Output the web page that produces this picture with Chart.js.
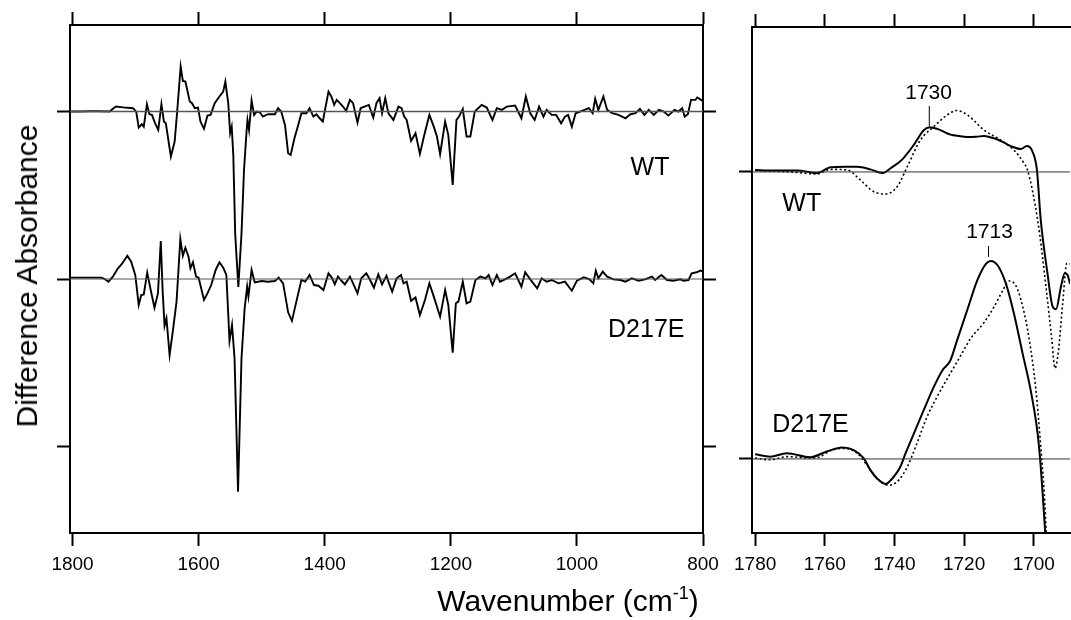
<!DOCTYPE html>
<html>
<head>
<meta charset="utf-8">
<script src="https://cdn.jsdelivr.net/npm/chart.js@4/dist/chart.umd.min.js"></script>
<style>
  html, body { margin: 0; padding: 0; background: #fff; }
  #wrap { position: relative; width: 1071px; height: 620px; font-family: "Liberation Sans", Arial, sans-serif; color: #000; }
  #wrap canvas { position: absolute; left: 0; top: 0; }
  .ytitle { position: absolute; left: 27px; top: 276px; transform: translate(-50%, -50%) rotate(-90deg); font-size: 30px; white-space: nowrap; }
  .xtitle { position: absolute; left: 568px; top: 601px; transform: translate(-50%, -50%); font-size: 30px; white-space: nowrap; }
  .xtitle sup { font-size: 18px; vertical-align: 12px; line-height: 0; }
</style>
</head>
<body>
<div id="wrap">
  <canvas id="full" width="1071" height="620"></canvas>
  <canvas id="zoom" width="1071" height="620"></canvas>
  <div class="ytitle">Difference Absorbance</div>
  <div class="xtitle">Wavenumber (cm<sup>-1</sup>)</div>
</div>
<script>
// ---- full range spectra (1800-800 cm-1), difference absorbance relative to each baseline
const wtWn = [1804, 1790, 1770, 1760, 1741, 1735, 1731, 1720, 1704, 1699, 1695, 1690, 1687, 1682, 1678, 1674, 1669, 1664, 1659, 1655, 1652, 1644, 1638, 1634, 1628.5, 1625, 1621, 1614, 1610.5, 1606, 1601, 1597, 1591.5, 1586, 1581, 1574.5, 1567, 1561, 1557.6, 1553, 1550, 1547.5, 1545, 1542, 1537, 1532, 1528, 1524, 1522.5, 1520, 1516, 1512, 1508, 1503, 1498, 1490, 1479, 1474, 1469, 1463, 1458, 1454, 1448, 1442, 1437, 1429, 1424, 1418, 1413, 1408, 1403, 1397, 1394, 1389.5, 1385, 1381, 1376, 1371, 1366, 1360, 1355, 1348, 1343, 1337, 1330, 1323, 1318, 1313, 1309, 1304, 1299, 1291, 1283, 1278, 1274, 1270, 1263, 1256, 1249, 1242, 1234, 1227, 1222, 1217, 1209, 1204, 1197, 1191, 1187, 1181, 1175, 1169, 1162, 1151, 1143, 1134, 1127, 1119, 1111, 1098, 1088, 1081, 1074, 1067, 1060, 1053, 1048, 1040, 1033, 1025, 1019, 1014, 1008, 1002, 992, 981, 975, 971, 966, 958, 952, 944, 934, 923, 915, 907, 900, 893, 886, 878, 870, 862, 855, 845, 839, 833, 829, 824, 819, 812, 809, 803, 801];
const wtDelta = [0, 0, 0.02, 0.02, 0, 0.2, 0.3, 0.25, 0.2, 0, -0.95, -0.76, -0.9, 0.44, -0.16, -0.2, -0.7, -1.1, 0.44, -0.6, -0.7, -2.69, -1.79, 0, 2.69, 1.83, 1.79, 0.6, 0.5, 0.2, 0.24, -0.6, -1.03, -0.24, -0.2, 0.5, 0.9, 1.19, 1.79, 0.5, -1.29, -0.9, -2.6, -7.3, -10.47, -7.3, -3.5, -1.2, -0.5, -1.1, 0.66, -0.2, 0, -0.04, -0.3, -0.16, -0.16, 0.2, 0, -0.8, -2.49, -2.59, -1.59, -0.8, -0.1, -0.1, 0.2, -0.3, -0.16, -0.4, -0.6, 0.6, 1.19, 0.9, 0.4, 0.7, 0.5, 0.3, 0.04, 0.7, 0.5, -0.66, 0.2, 0.3, 0.4, -0.36, 0.5, 0.8, -0.1, 0.8, -0.1, -0.5, 0.3, 0.2, -0.3, -0.5, -1.75, -1.29, -2.53, -1.39, -0.2, -0.9, -1.49, -2.55, -0.6, -1.39, -4.38, -0.5, -0.3, 0.16, -1.49, -1.49, 0, 0.4, 0.24, -0.5, 0.2, 0.1, 0.3, 0.36, -0.4, 0.9, -0.1, -0.5, 0.3, -0.3, 0.1, -0.2, -0.2, -0.7, -0.3, -0.2, -0.9, -0.1, 0.04, 0.2, -0.1, 0.76, 0.1, 0.9, 0.1, -0.1, -0.2, -0.4, -0.16, -0.1, 0.16, -0.2, 0.1, -0.2, 0.1, 0, -0.24, 0.1, 0, 0.2, -0.3, -0.16, 0.7, 0.7, 0.84, 0.7, 0.65];

const d217eWn = [1804, 1754, 1749, 1743, 1736, 1728, 1722, 1713, 1707, 1700.5, 1695, 1691, 1687, 1681.5, 1676, 1670, 1664.5, 1660, 1657, 1654, 1651, 1646, 1641, 1635, 1629, 1625, 1621, 1616, 1613, 1609, 1604, 1600, 1591.5, 1586, 1580, 1573, 1567, 1561, 1556, 1551, 1547, 1543, 1537.5, 1532, 1527, 1523, 1521, 1516, 1511, 1500, 1490, 1479, 1473, 1466, 1458, 1452, 1445, 1437, 1431, 1424, 1417, 1410, 1402, 1394, 1388, 1384, 1379, 1373, 1368, 1360, 1355, 1348, 1342, 1334, 1328, 1322, 1315, 1309, 1302, 1299, 1293, 1286, 1279, 1275, 1270, 1263, 1256, 1249, 1241, 1234, 1227, 1217, 1209, 1204, 1197, 1192, 1188, 1181, 1175, 1169, 1161, 1153, 1145, 1140, 1134, 1127, 1122, 1114, 1106, 1098, 1088, 1082, 1074, 1063, 1056, 1048, 1040, 1029, 1019, 1008, 1000, 989, 980, 974, 970, 966, 959, 952, 942, 931, 923, 913, 902, 892, 881, 876, 866, 857, 847, 836, 831, 823, 818, 810, 804, 801];
const d217eDelta = [0.08, 0.08, 0, -0.16, 0.14, 0.64, 0.88, 1.39, 1.03, 0.24, -1.55, -0.96, -0.92, 0.38, -0.66, -1.71, -0.86, 2.27, -0.76, -2.79, -2.35, -4.54, -3.14, -1.35, 2.39, 1.39, 1.87, 1.33, 0.64, 1.0, 0.14, 0.08, -1.25, -0.86, -0.36, 0.54, 1.0, 0.68, 0.24, -3.7, -2.75, -4.74, -12.7, -4.74, -1.75, -0.46, -1.05, 0.54, -0.2, -0.12, -0.16, -0.12, 0.08, -0.26, -1.99, -2.5, -1.35, -0.06, -0.16, 0.24, -0.36, -0.4, -0.66, 0.34, 0.04, -0.32, 0.14, -0.12, -0.32, 0.14, -0.26, -0.86, 0.04, 0.34, -0.06, -0.52, 0.28, -0.32, 0.2, -0.16, -0.76, 0.04, 0.24, -0.26, -0.16, -1.3, -1.1, -2.15, -1.25, -0.26, -1.05, -2.25, -0.66, -1.55, -4.4, -1.45, -1.35, -0.16, -1.45, -1.35, -0.06, 0.14, 0.04, 0.24, -0.36, 0.24, -0.16, -0.02, 0.14, 0.34, -0.46, 0.4, -0.02, -0.56, 0.04, -0.16, -0.06, -0.26, -0.16, -0.7, -0.1, 0.1, -0.02, -0.26, 0.5, 0.04, 0.44, 0.14, -0.02, -0.06, -0.16, 0.04, -0.1, -0.02, 0.14, -0.06, 0.24, -0.06, -0.1, -0.02, -0.1, -0.06, 0.34, 0.4, 0.5, 0.45];

// ---- carbonyl region (1780-1690 cm-1)
const wtSolidWn = [1780, 1775, 1768, 1762.2, 1758.4, 1754, 1750.7, 1746.9, 1743.5, 1741.1, 1737.8, 1734.4, 1731.6, 1729.8, 1727.7, 1725.5, 1723.9, 1721.5, 1719.1, 1716.5, 1714.3, 1712.3, 1710.4, 1708.5, 1706.6, 1703.7, 1702, 1700.4, 1699.1, 1698, 1696.1, 1694.6, 1693.6, 1692.2, 1691.1, 1690.3, 1689.6];
const wtSolidDelta = [0.07, 0.05, 0.05, -0.04, 0.16, 0.18, 0.18, 0.09, -0.04, 0.13, 0.43, 0.95, 1.45, 1.56, 1.5, 1.38, 1.3, 1.25, 1.22, 1.23, 1.25, 1.2, 1.13, 1.02, 0.9, 0.8, 0.9, 0.72, 0.07, -1.67, -3.5, -4.68, -4.78, -4.0, -3.53, -3.59, -3.9];
const wtDotWn = [1780, 1770, 1762.2, 1758.4, 1753.6, 1749.8, 1746, 1742.6, 1739.2, 1736.3, 1732.5, 1728.7, 1724.8, 1722.2, 1719.1, 1714.3, 1709.5, 1705.7, 1702.8, 1701.8, 1698.9, 1696.5, 1694.9, 1693.9, 1693, 1691.7, 1690.5, 1689.6];
const wtDotDelta = [0.05, 0, -0.07, 0.09, 0.07, -0.28, -0.68, -0.77, -0.51, 0.19, 1.12, 1.58, 1.99, 2.14, 1.99, 1.46, 1.11, 0.76, 0.3, 0.07, -1.67, -4.0, -5.74, -6.84, -6.32, -4.58, -3.18, -3.2];
const d217eSolidWn = [1780, 1775.7, 1770.9, 1764.2, 1759.4, 1755, 1751.7, 1748.8, 1746.9, 1745, 1742.6, 1740.2, 1738.3, 1736.8, 1734.4, 1731.6, 1728.7, 1726.2, 1724, 1722, 1719.1, 1716.2, 1713.8, 1712.4, 1710.4, 1708, 1705.7, 1703.2, 1700.9, 1698.9, 1698, 1697.2, 1696.7];
const d217eSolidDelta = [0.16, 0.08, 0.2, 0.06, 0.26, 0.4, 0.31, 0.02, -0.39, -0.68, -0.87, -0.62, -0.27, 0.2, 0.89, 1.7, 2.51, 3.09, 3.42, 4.14, 5.19, 6.23, 6.79, 6.9, 6.75, 6.11, 5.07, 3.67, 2.4, 0.89, -0.27, -1.66, -2.6];
const d217eDotWn = [1780, 1775.7, 1770.9, 1764.2, 1761.3, 1758.4, 1754.6, 1750.7, 1747.9, 1745, 1741.6, 1738.7, 1736.3, 1733.9, 1730.6, 1727.7, 1723.9, 1721, 1718.1, 1714.3, 1711.4, 1709, 1707.1, 1705.2, 1703.2, 1701.3, 1699.4, 1698, 1697, 1696.4];
const d217eDotDelta = [0.03, -0.03, 0.08, 0.03, 0.08, 0.29, 0.37, 0.2, -0.21, -0.68, -0.92, -0.73, -0.27, 0.43, 1.48, 2.18, 2.99, 3.6, 4.2, 4.75, 5.3, 5.85, 6.2, 6.05, 5.32, 4.16, 2.42, 0.44, -1.18, -2.6];

// peak markers in the carbonyl panel: wavenumber, marker bottom / top
const peakWn = [1730, 1713];
const peakLow = [11.6, 7.04];
const peakHigh = [12.3, 7.42];

// tick positions
const fullTicks = [1800, 1600, 1400, 1200, 1000, 800];
const zoomTicks = [1780, 1760, 1740, 1720, 1700];
const fullYTicks = [-10, 0, 10];
const zoomYTicks = [0, 10];

// vertical offsets of the two traces in each panel
const fullOffset = { wt: 10, d217e: 0 };
const zoomOffset = { wt: 10, d217e: 0 };

const FONT = '"Liberation Sans", Arial, sans-serif';
Chart.defaults.font.family = FONT;
Chart.defaults.color = '#000';

function pts(xs, ys, off) {
  return xs.map((x, i) => ({ x: x, y: ys[i] + off }));
}

function axis(pos, min, max, tickValues) {
  const horizontal = pos === 'top' || pos === 'bottom';
  const labels = pos === 'bottom';
  return {
    type: 'linear', position: pos, min: min, max: max,
    reverse: horizontal,
    afterBuildTicks: s => { s.ticks = tickValues.map(v => ({ value: v })); },
    afterFit: s => {
      if (labels) s.height = 60;
      else if (horizontal) s.height = 13;
      else s.width = 13;
      s.paddingLeft = 0; s.paddingRight = 0; s.paddingTop = 0; s.paddingBottom = 0;
    },
    grid: { drawOnChartArea: false, drawTicks: true, tickLength: 13, tickWidth: 2, tickColor: '#000' },
    border: { display: true, width: 2, color: '#000' },
    ticks: { display: labels, font: { size: 19 }, color: '#000', padding: 7, maxRotation: 0, autoSkip: false, callback: v => String(v) }
  };
}

function line(data, opts) {
  return Object.assign({
    data: data, xAxisID: 'x', yAxisID: 'y',
    borderColor: '#000', borderWidth: 1.9, pointRadius: 0, tension: 0, fill: false
  }, opts || {});
}

const panelText = {
  id: 'panelText',
  afterDatasetsDraw(chart, args, opts) {
    const { ctx } = chart;
    const x = chart.scales.x, y = chart.scales.y;
    ctx.save();
    ctx.fillStyle = '#000';
    ctx.textAlign = 'center';
    ctx.textBaseline = 'middle';
    (opts.labels || []).forEach(l => {
      ctx.font = l.size + 'px ' + FONT;
      ctx.fillText(l.text, x.getPixelForValue(l.wn), y.getPixelForValue(l.v));
    });
    ctx.restore();
  }
};

const common = {
  responsive: false,
  animation: false,
  devicePixelRatio: 1,
  events: [],
  plugins: { legend: { display: false }, tooltip: { enabled: false } }
};

// left panel: full mid-IR range
new Chart(document.getElementById('full'), {
  type: 'line',
  data: {
    datasets: [
      line([{ x: 800, y: fullOffset.wt }, { x: 1804, y: fullOffset.wt }], { borderColor: '#555', borderWidth: 1.5 }),
      line([{ x: 800, y: fullOffset.d217e }, { x: 1804, y: fullOffset.d217e }], { borderColor: '#555', borderWidth: 1.2 }),
      line(pts(wtWn, wtDelta, fullOffset.wt)),
      line(pts(d217eWn, d217eDelta, fullOffset.d217e))
    ]
  },
  options: Object.assign({}, common, {
    layout: { padding: { left: 57, right: 355, top: 12, bottom: 27 } },
    scales: {
      x: axis('bottom', 800, 1804, fullTicks),
      xTop: axis('top', 800, 1804, fullTicks),
      y: axis('left', -15.17, 15.17, fullYTicks),
      yRight: axis('right', -15.17, 15.17, fullYTicks)
    },
    plugins: Object.assign({}, common.plugins, {
      panelText: { labels: [
        { text: 'WT', wn: 884, v: 6.64, size: 25 },
        { text: 'D217E', wn: 890, v: -3.04, size: 25 }
      ] }
    })
  }),
  plugins: [panelText]
});

// right panel: carbonyl stretch region
const peakSets = peakWn.map((w, i) => line([{ x: w, y: peakLow[i] }, { x: w, y: peakHigh[i] }], { borderWidth: 1 }));

new Chart(document.getElementById('zoom'), {
  type: 'line',
  data: {
    datasets: [
      line([{ x: 1689.6, y: zoomOffset.wt }, { x: 1780.9, y: zoomOffset.wt }], { borderColor: '#333', borderWidth: 1 }),
      line([{ x: 1689.6, y: zoomOffset.d217e }, { x: 1780.9, y: zoomOffset.d217e }], { borderColor: '#333', borderWidth: 1 }),
      line(pts(wtDotWn, wtDotDelta, zoomOffset.wt), { borderWidth: 1.6, borderDash: [2, 2.5], cubicInterpolationMode: 'monotone' }),
      line(pts(wtSolidWn, wtSolidDelta, zoomOffset.wt), { borderWidth: 2, cubicInterpolationMode: 'monotone' }),
      line(pts(d217eDotWn, d217eDotDelta, zoomOffset.d217e), { borderWidth: 1.6, borderDash: [2, 2.5], cubicInterpolationMode: 'monotone' }),
      line(pts(d217eSolidWn, d217eSolidDelta, zoomOffset.d217e), { borderWidth: 2, cubicInterpolationMode: 'monotone' })
    ].concat(peakSets)
  },
  options: Object.assign({}, common, {
    layout: { padding: { left: 739, right: 1, top: 14, bottom: 27 } },
    scales: {
      x: axis('bottom', 1689.6, 1780.9, zoomTicks),
      xTop: axis('top', 1689.6, 1780.9, zoomTicks),
      y: axis('left', -2.58, 15.05, zoomYTicks)
    },
    plugins: Object.assign({}, common.plugins, {
      panelText: { labels: [
        { text: 'WT', wn: 1766.6, v: 8.89, size: 25 },
        { text: 'D217E', wn: 1764.1, v: 1.18, size: 25 },
        { text: '1730', wn: 1730.2, v: 12.75, size: 21 },
        { text: '1713', wn: 1712.7, v: 7.91, size: 21 }
      ] }
    })
  }),
  plugins: [panelText]
});
</script>
</body>
</html>
